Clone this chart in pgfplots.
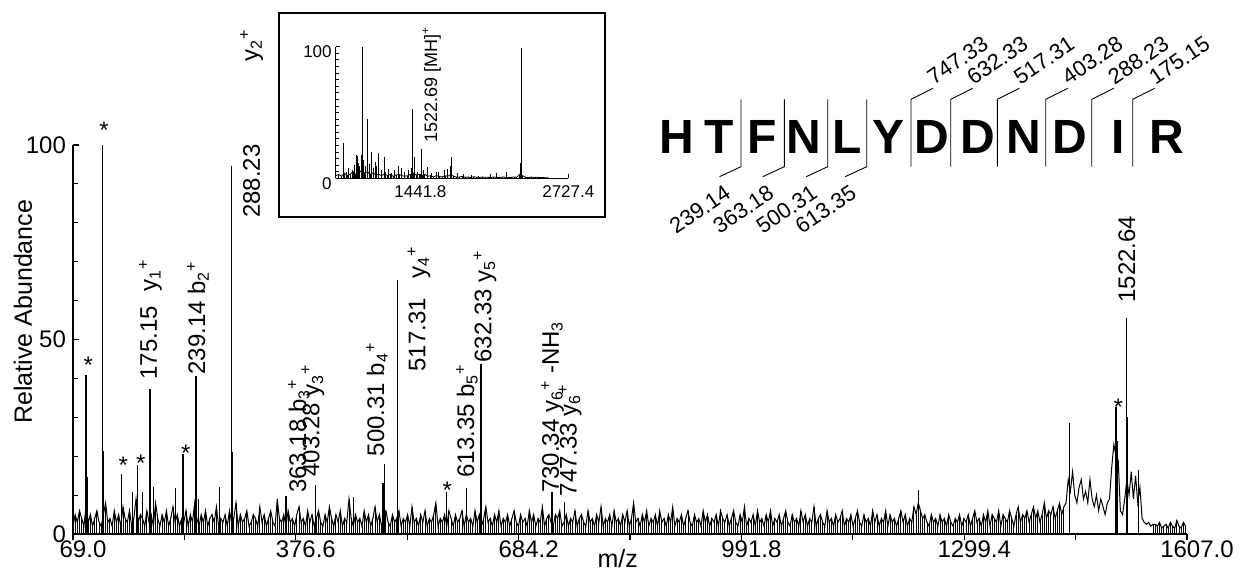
\documentclass[border=0pt]{standalone}
\usepackage{fontspec}
\setmainfont{Liberation Sans}
\usepackage{pgfplots}
\usepackage{pgfplotstable}
\pgfplotsset{compat=1.18}
\pgfplotstableread[row sep=\\]{
x y\\
69 2\\ 72 5\\ 75 3\\ 78 6\\ 81 4\\ 84 2\\ 87 7\\ 90 3\\ 93 5\\ 96 2\\
99 4\\ 102 6\\ 105 3\\ 108 2\\ 111 5\\ 114 8\\ 117 3\\ 120 4\\ 123 2\\ 126 6\\
129 3\\ 132 5\\ 135 2\\ 138 7\\ 141 4\\ 144 3\\ 147 6\\ 150 2\\ 153 4\\ 156 9\\
159 3\\ 162 5\\ 165 4\\ 168 2\\ 171 6\\ 174 3\\ 177 5\\ 180 2\\ 183 8\\ 186 4\\
189 2\\ 192 5\\ 195 3\\ 198 6\\ 201 2\\ 204 4\\ 207 7\\ 210 3\\ 213 5\\ 216 2\\
219 4\\ 222 3\\ 225 6\\ 228 2\\ 231 5\\ 234 3\\ 237 8\\ 240 4\\ 243 2\\ 246 5\\
249 3\\ 252 6\\ 255 2\\ 258 4\\ 261 5\\ 264 3\\ 267 7\\ 270 2\\ 273 4\\ 276 3\\
279 5\\ 282 2\\ 285 6\\ 288 3\\ 291 4\\ 294 8\\ 297 2\\ 300 5\\ 303 3\\ 306 4\\
309 6\\ 312 2\\ 315 3\\ 318 5\\ 321 4\\ 324 2\\ 327 7\\ 330 3\\ 333 5\\ 336 2\\
339 4\\ 342 6\\ 345 3\\ 348 2\\ 351 9\\ 354 4\\ 357 3\\ 360 5\\ 363 2\\ 366 6\\
369 3\\ 372 4\\ 375 2\\ 378 5\\ 381 7\\ 384 3\\ 387 4\\ 390 2\\ 393 6\\ 396 3\\
399 5\\ 402 2\\ 405 4\\ 408 6\\ 411 3\\ 414 2\\ 417 5\\ 420 3\\ 423 7\\ 426 4\\
429 2\\ 432 5\\ 435 3\\ 438 6\\ 441 2\\ 444 4\\ 447 3\\ 450 9\\ 453 4\\ 456 2\\
459 5\\ 462 3\\ 465 4\\ 468 2\\ 471 6\\ 474 3\\ 477 5\\ 480 2\\ 483 4\\ 486 7\\
489 3\\ 492 5\\ 495 2\\ 498 4\\ 501 6\\ 504 3\\ 507 2\\ 510 5\\ 513 3\\ 516 4\\
519 6\\ 522 2\\ 525 4\\ 528 3\\ 531 5\\ 534 2\\ 537 7\\ 540 3\\ 543 4\\ 546 2\\
549 5\\ 552 3\\ 555 6\\ 558 2\\ 561 4\\ 564 3\\ 567 5\\ 570 8\\ 573 2\\ 576 4\\
579 3\\ 582 5\\ 585 2\\ 588 6\\ 591 4\\ 594 2\\ 597 5\\ 600 3\\ 603 4\\ 606 6\\
609 2\\ 612 5\\ 615 3\\ 618 4\\ 621 2\\ 624 6\\ 627 3\\ 630 5\\ 633 2\\ 636 4\\
639 7\\ 642 3\\ 645 4\\ 648 2\\ 651 5\\ 654 3\\ 657 6\\ 660 2\\ 663 4\\ 666 3\\
669 5\\ 672 2\\ 675 4\\ 678 6\\ 681 3\\ 684 2\\ 687 5\\ 690 3\\ 693 4\\ 696 2\\
699 6\\ 702 3\\ 705 5\\ 708 2\\ 711 4\\ 714 3\\ 717 7\\ 720 2\\ 723 4\\ 726 5\\
729 3\\ 732 2\\ 735 5\\ 738 4\\ 741 6\\ 744 2\\ 747 3\\ 750 5\\ 753 2\\ 756 4\\
759 3\\ 762 6\\ 765 2\\ 768 4\\ 771 5\\ 774 3\\ 777 2\\ 780 6\\ 783 3\\ 786 4\\
789 2\\ 792 5\\ 795 3\\ 798 7\\ 801 2\\ 804 4\\ 807 3\\ 810 5\\ 813 2\\ 816 6\\
819 3\\ 822 4\\ 825 2\\ 828 5\\ 831 3\\ 834 6\\ 837 2\\ 840 4\\ 843 8\\ 846 3\\
849 4\\ 852 2\\ 855 5\\ 858 3\\ 861 6\\ 864 2\\ 867 4\\ 870 3\\ 873 5\\ 876 2\\
879 6\\ 882 3\\ 885 4\\ 888 2\\ 891 5\\ 894 3\\ 897 7\\ 900 2\\ 903 4\\ 906 3\\
909 5\\ 912 2\\ 915 4\\ 918 6\\ 921 3\\ 924 2\\ 927 5\\ 930 3\\ 933 4\\ 936 2\\
939 6\\ 942 3\\ 945 5\\ 948 2\\ 951 4\\ 954 3\\ 957 5\\ 960 2\\ 963 6\\ 966 4\\
969 3\\ 972 5\\ 975 2\\ 978 4\\ 981 6\\ 984 3\\ 987 2\\ 990 5\\ 993 3\\ 996 7\\
999 2\\ 1002 4\\ 1005 3\\ 1008 5\\ 1011 2\\ 1014 6\\ 1017 3\\ 1020 4\\ 1023 2\\ 1026 5\\
1029 3\\ 1032 6\\ 1035 2\\ 1038 4\\ 1041 3\\ 1044 5\\ 1047 2\\ 1050 4\\ 1053 6\\ 1056 3\\
1059 2\\ 1062 5\\ 1065 3\\ 1068 4\\ 1071 2\\ 1074 6\\ 1077 3\\ 1080 5\\ 1083 2\\ 1086 4\\
1089 3\\ 1092 7\\ 1095 2\\ 1098 4\\ 1101 5\\ 1104 3\\ 1107 2\\ 1110 6\\ 1113 3\\ 1116 4\\
1119 2\\ 1122 5\\ 1125 3\\ 1128 4\\ 1131 6\\ 1134 2\\ 1137 4\\ 1140 3\\ 1143 5\\ 1146 2\\
1149 4\\ 1152 6\\ 1155 3\\ 1158 2\\ 1161 5\\ 1164 3\\ 1167 4\\ 1170 2\\ 1173 6\\ 1176 3\\
1179 5\\ 1182 2\\ 1185 4\\ 1188 3\\ 1191 6\\ 1194 2\\ 1197 5\\ 1200 3\\ 1203 4\\ 1206 2\\
1209 4\\ 1212 6\\ 1215 3\\ 1218 5\\ 1221 2\\ 1224 4\\ 1227 3\\ 1230 7\\ 1233 5\\ 1236 8\\
1239 6\\ 1242 4\\ 1245 5\\ 1248 3\\ 1251 2\\ 1254 5\\ 1257 3\\ 1260 4\\ 1263 2\\ 1266 5\\
1269 3\\ 1272 4\\ 1275 2\\ 1278 5\\ 1281 3\\ 1284 2\\ 1287 4\\ 1290 3\\ 1293 5\\ 1296 2\\
1299 4\\ 1302 3\\ 1305 5\\ 1308 2\\ 1311 4\\ 1314 6\\ 1317 3\\ 1320 4\\ 1323 2\\ 1326 5\\
1329 3\\ 1332 6\\ 1335 2\\ 1338 5\\ 1341 4\\ 1344 3\\ 1347 6\\ 1350 2\\ 1353 5\\ 1356 4\\
1359 3\\ 1362 6\\ 1365 4\\ 1368 2\\ 1371 5\\ 1374 7\\ 1377 3\\ 1380 5\\ 1383 4\\ 1386 6\\
1389 3\\ 1392 5\\ 1395 7\\ 1398 4\\ 1401 6\\ 1404 3\\ 1407 5\\ 1410 8\\ 1413 4\\ 1416 6\\
1419 5\\ 1422 7\\ 1425 4\\ 1428 6\\ 1431 8\\ 1434 5\\ 1437 7\\ 1440 8\\ 1443 14\\ 1446 11\\
1449 16\\ 1452 10\\ 1455 8\\ 1458 12\\ 1461 14\\ 1464 9\\ 1467 11\\ 1470 8\\ 1473 14\\ 1476 9\\
1479 7\\ 1482 10\\ 1485 6\\ 1488 9\\ 1491 7\\ 1494 5\\ 1497 8\\ 1500 9\\ 1503 17\\ 1506 23\\
1509 20\\ 1512 19\\ 1515 6\\ 1518 5\\ 1521 9\\ 1524 14\\ 1527 10\\ 1530 16\\ 1533 9\\ 1536 15\\
1539 8\\ 1542 12\\ 1545 4\\ 1548 3\\ 1551 2.5\\ 1554 3\\ 1557 2\\ 1560 2.5\\ 1563 2.5\\ 1566 2\\
1569 3\\ 1572 1.5\\ 1575 2\\ 1578 2.5\\ 1581 1.5\\ 1584 3\\ 1587 2\\ 1590 1.5\\ 1593 3.5\\ 1596 2\\
1599 1.5\\ 1602 3\\ 1605 2\\
}\noise
\pgfplotstableread[row sep=\\]{
x y\\
705 2\\ 730 3\\ 755 1.5\\ 780 4\\ 805 2\\ 830 3\\ 855 5\\ 880 3\\ 905 4\\ 930 6\\
955 4\\ 980 5\\ 1005 3\\ 1030 4\\ 1055 2.5\\ 1080 3\\ 1105 2\\ 1130 3.5\\ 1155 2\\ 1180 3\\
1205 1.5\\ 1230 2.5\\ 1255 3\\ 1280 2\\ 1305 1.5\\ 1330 2\\ 1355 3\\ 1380 4\\ 1405 2.5\\ 1430 3\\
1455 2\\ 1480 3\\ 1505 1.5\\ 1530 2\\ 1555 1\\ 1580 2\\ 1605 1.5\\ 1630 1\\ 1655 2\\ 1680 1.5\\
1705 3\\ 1730 1.5\\ 1755 1\\ 1780 1\\ 1805 1.5\\ 1830 0.8\\ 1855 1\\ 1880 0.7\\ 1905 1.2\\ 1930 0.8\\
1955 0.6\\ 1980 1\\ 2005 0.7\\ 2030 0.8\\ 2055 0.6\\ 2080 1\\ 2105 0.7\\ 2130 0.6\\ 2155 1\\ 2180 0.8\\
2205 0.6\\ 2230 0.7\\ 2255 1\\ 2280 0.8\\ 2305 3\\ 2330 2\\ 2355 0.8\\ 2380 0.6\\ 2405 0.9\\ 2430 0.6\\
2455 0.8\\ 2480 0.5\\ 2505 0.6\\ 2530 0.4\\ 2555 0.5\\
}\insetnoise
\begin{document}
\begin{tikzpicture}
\tikzset{
  pl/.style={rotate=90, anchor=west, inner sep=0pt, font=\fontsize{12}{14}\selectfont},
  st/.style={inner sep=0pt, font=\fontsize{12}{14}\selectfont},
  px/.style={x=0.5pt, y=-0.5pt, shift={(-36.5pt,267pt)}},
}
\begin{axis}[
  at={(0,0)}, anchor=south west,
  scale only axis, width=557pt, height=194.5pt,
  xmin=69, xmax=1607, ymin=0, ymax=100,
  axis x line=bottom, axis y line=left,
  axis line style={-, line width=0.9pt},
  xtick={69,376.6,684.2,991.8,1299.4,1607},
  xticklabels={69.0,376.6,684.2,991.8,1299.4,1607.0},
  minor x tick num=1,
  ytick={0,50,100}, yticklabels={0,50,100},
  minor y tick num=4,
  tick align=inside,
  major tick length=3pt, minor tick length=2.5pt,
  tick style={black, line width=0.6pt},
  every x tick/.append style={yshift=-3pt},
  tick label style={font=\fontsize{12}{14}\selectfont},
  xticklabel style={xshift=5pt},
  xlabel={m/z}, ylabel={Relative Abundance},
  label style={font=\fontsize{12.5}{15}\selectfont},
  xlabel style={at={(axis description cs:0.489,-0.064)}, anchor=center},
  ylabel style={at={(axis description cs:-0.0449,0.5715)}, rotate=0, anchor=center},
  clip=false,
]
\addplot[ycomb, black, line width=0.45pt, mark=none, restrict x to domain=69:1438] table {\noise};
\addplot[ycomb, black, line width=0.45pt, mark=none, restrict x to domain=1560:1607] table {\noise};
\addplot[black, line width=0.5pt, mark=none] table {\noise};
\addplot[ycomb, black, line width=0.6pt, mark=none] coordinates {
(87,40.8)(88.5,14.7)(110,100)(111.5,21.3)(135.7,15.4)(151,10.9)(158,17.7)(165,10.9)
(175.3,37.4)(180,12)(210.8,11.8)(221,20.5)(238.8,40.5)(242,9)(271,12)(288.1,94.6)(289.5,21)
(363.18,9.7)(403.28,12.6)(456,9.6)(497,13)(499.5,18)(517.31,65.4)(585,10.8)(612.8,11.9)
(632.33,43.6)(633.5,23)(730.34,10.8)(747.33,8.3)(1236,11.4)
(1444.6,28.6)(1509,32.7)(1510.5,24)(1523.5,55.4)(1524.8,30)(1540,16.5)
};
\node[pl] at (axis cs:176,39.6) {175.15\hspace{0.6em}y\textsubscript{1}\textsuperscript{+}};
\node[pl] at (axis cs:241.6,40.9) {239.14 b\textsubscript{2}\textsuperscript{+}};
\node[pl] at (axis cs:315.7,81.2) {288.23};
\node[pl] at (axis cs:315.7,121.3) {y\textsubscript{2}\textsuperscript{+}};
\node[pl] at (axis cs:381,10.5) {363.18 b\textsubscript{3}\textsuperscript{+}};
\node[pl] at (axis cs:400.3,14.7) {403.28 y\textsubscript{3}\textsuperscript{+}};
\node[pl] at (axis cs:488.7,19.9) {500.31 b\textsubscript{4}\textsuperscript{+}};
\node[pl] at (axis cs:546.7,41.7) {517.31\hspace{0.8em}y\textsubscript{4}\textsuperscript{+}};
\node[pl] at (axis cs:613,14.4) {613.35 b\textsubscript{5}\textsuperscript{+}};
\node[pl] at (axis cs:637.8,44) {632.33 y\textsubscript{5}\textsuperscript{+}};
\node[pl] at (axis cs:731,10.5) {730.34 y\textsubscript{6}\textsuperscript{+} -NH\textsubscript{3}};
\node[pl] at (axis cs:755.2,9.6) {747.33 y\textsubscript{6}\textsuperscript{+}};
\node[pl] at (axis cs:1524,59.4) {1522.64};
\node[st] at (axis cs:90.1,43.4) {*};
\node[st] at (axis cs:111.8,103.8) {*};
\node[st] at (axis cs:138.4,17.7) {*};
\node[st] at (axis cs:162.5,18.2) {*};
\node[st] at (axis cs:224.6,20.7) {*};
\node[st] at (axis cs:585.8,11.3) {*};
\node[st] at (axis cs:1512.2,32.7) {*};
\end{axis}
% inset
\begin{axis}[
  at={(131.35pt,177.85pt)}, anchor=south west,
  scale only axis, width=116.3pt, height=65.8pt,
  xmin=705, xmax=2727.4, ymin=0, ymax=100,
  axis x line=bottom, axis y line=left,
  axis line style={-, line width=0.7pt},
  xtick={1441.8,2727.4}, xticklabels={1441.8,2727.4},
  ytick={0,100}, yticklabels={0,100},
  minor y tick num=19,
  tick align=inside, major tick length=2pt, minor tick length=1.5pt,
  tick style={black, line width=0.4pt},
  tick label style={font=\fontsize{8.5}{10}\selectfont},
  yticklabel style={yshift=-2.5pt, xshift=1.5pt},
  clip=false,
]
\addplot[ycomb, black, line width=0.4pt, mark=none] table {\insetnoise};
\addplot[black, line width=0.4pt, mark=none] table {\insetnoise};
\addplot[ycomb, black, line width=0.45pt, mark=none] coordinates {
(771,26.6)(800,5)(820,8)(850,6)(870,10)(882,17.7)(893,17)(905,12)(915,9)(931,18)(940,100)
(950,14)(960,7.6)(965,9)(983,45)(995,11)(1012,20)(1030,8)(1047,12.7)(1060,9)
(1081,19)(1100,6)(1125,16.5)(1140,5)(1162,7)(1190,4)(1220,6)(1250,9)(1273,7.6)(1300,5)
(1340,6)(1360,8)(1374,52.7)(1394,16.5)(1420,5)(1453,22)(1470,6)(1505,8.4)(1540,4)
(1583,5)(1600,5)(1650,6)(1675,7)(1700,9)(1714,16)(1760,4)(1820,3)(1888,2.5)(1950,2)
(2050,3)(2099,3.8)(2186,5)(2313,11.4)(2322,99)
};
\node[rotate=90, anchor=west, inner sep=0pt, font=\fontsize{9}{11}\selectfont] at (axis cs:1539.7,26.8) {1522.69 [MH]\textsuperscript{+}};
\end{axis}
\begin{scope}[px]
\draw[line width=0.8pt] (279,13) rectangle (605,217);
\foreach \x/\l in {676.7/H,719.3/T,761.7/F,804/N,846.7/L,888.3/Y,931.7/D,978.3/D,1024/N,1070/D,1118.3/I,1166.7/R}
  \node[inner sep=0pt, font=\fontsize{24}{28}\selectfont\bfseries] at (\x,136.7) {\l};
\foreach \x/\t in {741/239.14,784.3/363.18,827.7/500.31,866.7/613.35} {
  \draw[line width=0.45pt] (\x,99.3) -- (\x,166.7) -- ++(-21.5,10);
  \node[rotate=34, anchor=north east, inner sep=0pt, font=\fontsize{11}{13}\selectfont] at ({\x-17.5},183.7) {\t};
}
\foreach \x/\t in {911/747.33,950.7/632.33,997.3/517.31,1045.7/403.28,1091.7/288.23,1132.7/175.15} {
  \draw[line width=0.45pt] (\x,166.7) -- (\x,99.3) -- ++(22,-11);
  \node[rotate=34, anchor=south west, inner sep=0pt, font=\fontsize{11}{13}\selectfont] at ({\x+23},86.3) {\t};
}
\end{scope}
\pgfresetboundingbox
\path[px] (0,0) rectangle (1242,573);
\end{tikzpicture}
\end{document}
